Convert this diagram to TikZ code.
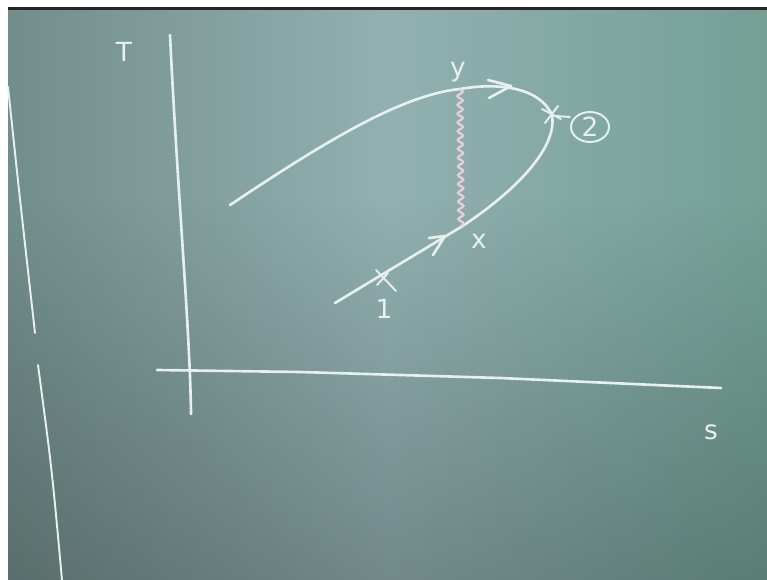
\documentclass[tikz,border=0pt]{standalone}
\usepackage{fontspec}
\setmainfont{DejaVu Sans}
\usetikzlibrary{decorations.pathmorphing,arrows.meta,shapes.geometric,fadings}
\definecolor{boardL}{RGB}{114,142,139}
\definecolor{boardM}{RGB}{146,176,177}
\definecolor{boardR}{RGB}{116,160,150}
\definecolor{chalk}{RGB}{230,240,238}
\definecolor{pinkchalk}{RGB}{232,205,220}
\tikzset{
  chalkline/.style={draw=chalk, line width=1.5pt, line cap=round, line join=round},
  thinchalk/.style={draw=chalk, line width=1.1pt, line cap=round, line join=round},
  chalktext/.style={text=chalk, inner sep=0pt, font=\fontsize{15}{15}\selectfont},
}
\begin{document}
\begin{tikzpicture}[x=0.02cm,y=-0.02cm]
\useasboundingbox (0,0) rectangle (767,580);
% board
\fill[white] (0,0) rectangle (767,580);
\shade[left color=boardL, right color=boardR, middle color=boardM] (8,9) rectangle (767,580);
\fill[black, opacity=0.22, path fading=north] (8,200) rectangle (767,580);
\fill[black!85] (8,7) rectangle (767,10);
% left board edge chalk
\draw[thinchalk] (8,87) .. controls (20,200) .. (35,333);
\draw[thinchalk] (38,365) .. controls (52,470) .. (62,580);
% axes
\coordinate (yaxtop) at (170,35);
\coordinate (yaxbot) at (191,414);
\coordinate (xaxL) at (157,370);
\coordinate (xaxR) at (721,388);
\draw[chalkline] (yaxtop) .. controls (178,200) and (190,330) .. (yaxbot);
\draw[chalkline] (xaxL) -- (300,372) -- (500,378) -- (xaxR);
\node[chalktext] (T) at (124,52) {T};
\node[chalktext] (S) at (711,432) {s};
% key points
\coordinate (start) at (230,205);
\coordinate (Y) at (460,89);
\coordinate (P2) at (552,115);
\coordinate (X) at (461,227);
\coordinate (P1) at (382,279);
\coordinate (low) at (335,303);
% curve
\draw[chalkline] (start) .. controls (320,145) and (400,95) .. (Y)
  .. controls (500,82) and (540,88) .. (P2)
  .. controls (558,150) and (510,195) .. (X)
  -- (low);
% arrows (open chevrons)
\draw[chalkline] (488,80) -- (511,86) -- (489,98);
\draw[chalkline] (429,238) -- (445,236) -- (433,255);
% crosses
\draw[thinchalk] (376,270) -- (396,291);
\draw[thinchalk] (377,285) -- (388,273);
\draw[thinchalk] (542,109) -- (561,119);
\draw[thinchalk] (545,123) -- (558,106);
\draw[thinchalk] (556,116) -- (570,117);
% wavy line
\draw[pinkchalk, line width=1.3pt, decorate, decoration={snake, amplitude=1.5pt, segment length=5pt}] (Y) -- (X);
% labels
\node[chalktext] (ylab) at (458,72) {y};
\node[chalktext] (xlab) at (479,241) {x};
\node[chalktext] (one) at (384,309) {1};
\node[chalktext, draw=chalk, line width=1.1pt, ellipse, minimum width=0.76cm, minimum height=0.6cm] (two) at (590,127) {2};
\end{tikzpicture}
\end{document}
